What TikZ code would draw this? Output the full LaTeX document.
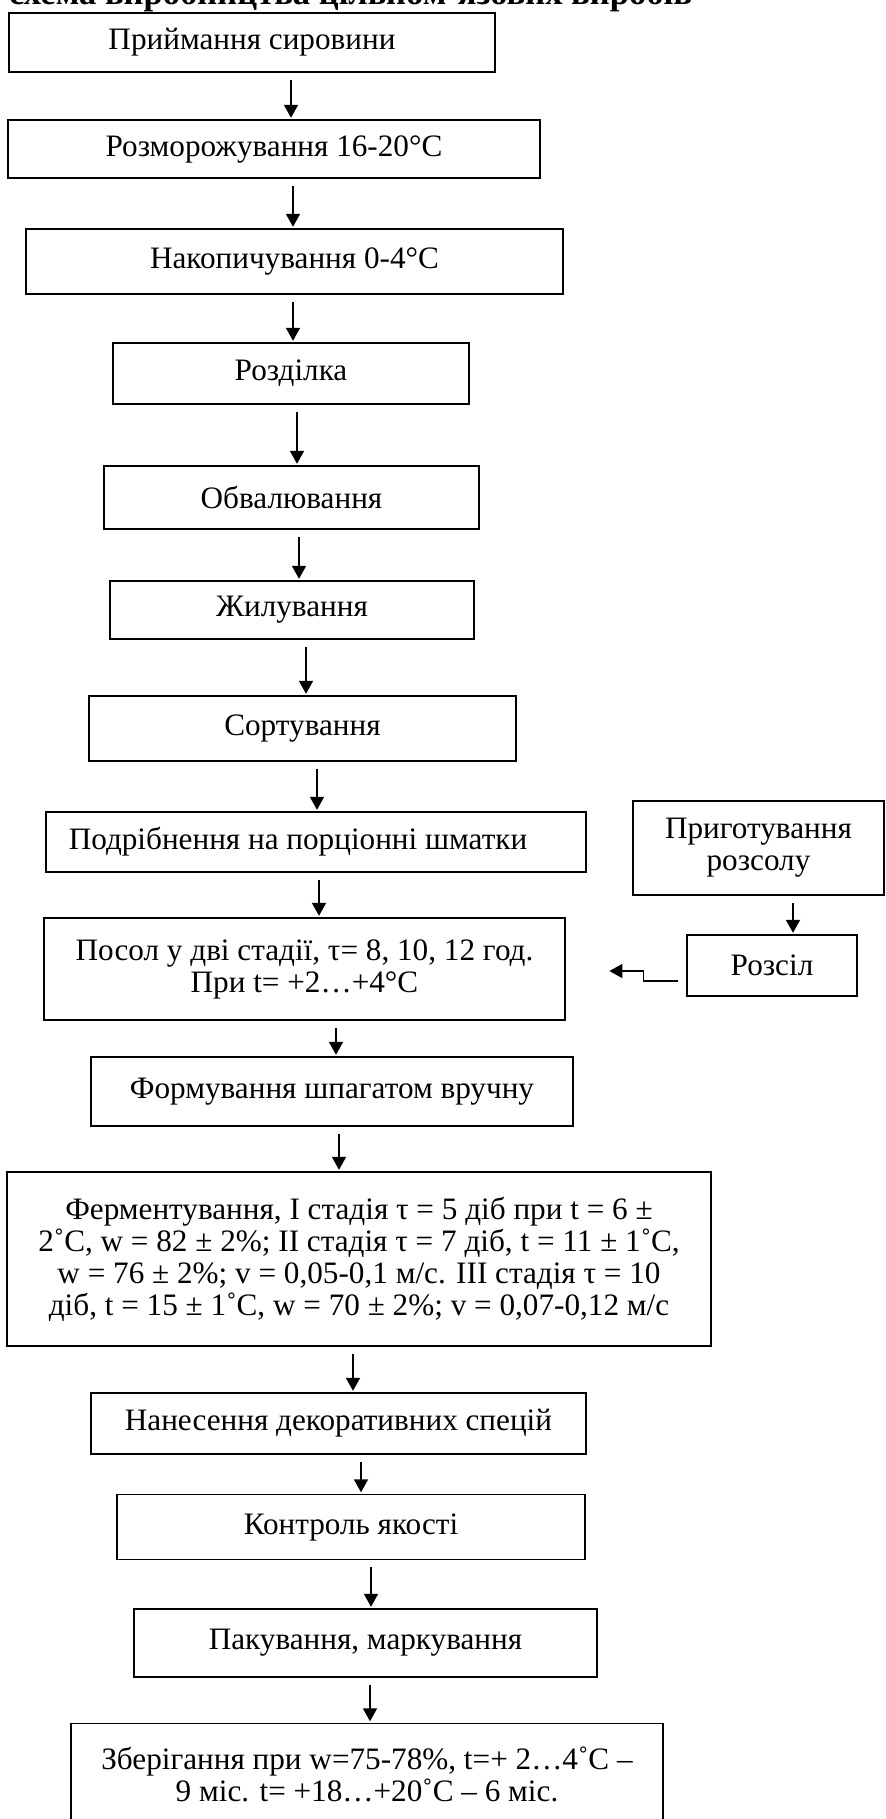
\documentclass[tikz,border=0pt]{standalone}
\usepackage{fontspec}
\setmainfont{Liberation Serif}
\usetikzlibrary{arrows.meta}
\begin{document}
\begin{tikzpicture}[x=0.5pt,y=-0.5pt,
	box/.style={draw,line width=0.6pt,inner sep=0pt,align=center,font=\fontsize{15.6}{16}\selectfont},
	arr/.style={-{Triangle[length=6.5pt,width=7pt]},line width=0.9pt,shorten <=3.5pt,shorten >=0.8pt}]
\useasboundingbox (0,0) rectangle (885,1819);
\node [anchor=base west,font=\bfseries\fontsize{17.3}{19}\selectfont] (title) at (2,5) {схема виробництва цільном'язових виробів};
% main line
\node [box,minimum width=243pt,minimum height=29.5pt] (n1) at (252,42.5) {Приймання сировини};
\node [box,minimum width=266pt,minimum height=29pt] (n2) at (274,149) {Розморожування 16-20°C};
\node [box,minimum width=268.5pt,minimum height=32.5pt] (n3) at (294.5,261.5) {Накопичування 0-4°C};
\node [box,minimum width=178pt,minimum height=30.5pt] (n4) at (291,373.5) {Розділка};
\node [box,minimum width=187.5pt,minimum height=31.5pt] (n5) at (291.5,497.5) {Обвалювання};
\node [box,minimum width=182pt,minimum height=29pt] (n6) at (292,610) {Жилування};
\node [box,minimum width=213.5pt,minimum height=32.5pt] (n7) at (302.5,728.5) {Сортування};
\node [box,minimum width=270pt,minimum height=30pt] (n8) at (316,842) {Подрібнення на порціонні шматки\hspace*{18pt}};
\node [box,minimum width=260.5pt,minimum height=51pt] (n9) at (304.5,969) {Посол у дві стадії, τ= 8, 10, 12 год.\\ При t= +2…+4°C};
\node [box,minimum width=241pt,minimum height=34.5pt] (n10) at (332,1091.5) {Формування шпагатом вручну};
\node [box,minimum width=352pt,minimum height=87pt] (n11) at (359,1259) {Ферментування, I стадія τ = 5 діб при t = 6 ±\\ 2˚C, w = 82 ± 2\%; II стадія τ = 7 діб, t = 11 ± 1˚C,\\ w = 76 ± 2\%; v = 0,05-0,1 м/с. III стадія τ = 10\\ діб, t = 15 ± 1˚C, w = 70 ± 2\%; v = 0,07-0,12 м/с};
\node [box,minimum width=247.5pt,minimum height=30.5pt] (n12) at (338.5,1423.5) {Нанесення декоративних спецій};
\node [box,minimum width=234pt,minimum height=32.5pt] (n13) at (351,1527) {Контроль якості};
\node [box,minimum width=231.5pt,minimum height=34pt] (n14) at (365.5,1643) {Пакування, маркування};
\node [box,minimum width=296pt,minimum height=51pt] (n15) at (367,1774.5) {Зберігання при w=75-78\%, t=+ 2…4˚C –\\ 9 міс. t= +18…+20˚C – 6 міс.};
% brine
\node [box,minimum width=125.5pt,minimum height=47pt] (r1) at (758.5,848) {Приготування\\ розсолу};
\node [box,minimum width=85pt,minimum height=30.5pt] (r2) at (772,965.5) {Розсіл};
% arrows
\path (n1.south) ++(39,0) coordinate (a1);
\path (n2.south) ++(19,0) coordinate (a2);
\path (n3.south) ++(-1.5,0) coordinate (a3);
\path (n4.south) ++(6,0) coordinate (a4);
\path (n5.south) ++(7.5,0) coordinate (a5);
\path (n6.south) ++(14,0) coordinate (a6);
\path (n7.south) ++(14.5,0) coordinate (a7);
\path (n8.south) ++(3,0) coordinate (a8);
\path (n9.south) ++(31.5,0) coordinate (a9);
\path (n10.south) ++(7,0) coordinate (a10);
\path (n11.south) ++(-6,0) coordinate (a11);
\path (n12.south) ++(22.5,0) coordinate (a12);
\path (n13.south) ++(20,0) coordinate (a13);
\path (n14.south) ++(4.5,0) coordinate (a14);
\path (r1.south) ++(34.5,0) coordinate (b1);
\draw [arr] (a1) -- (a1 |- n2.north);
\draw [arr] (a2) -- (a2 |- n3.north);
\draw [arr] (a3) -- (a3 |- n4.north);
\draw [arr] (a4) -- (a4 |- n5.north);
\draw [arr] (a5) -- (a5 |- n6.north);
\draw [arr] (a6) -- (a6 |- n7.north);
\draw [arr] (a7) -- (a7 |- n8.north);
\draw [arr] (a8) -- (a8 |- n9.north);
\draw [arr] (a9) -- (a9 |- n10.north);
\draw [arr] (a10) -- (a10 |- n11.north);
\draw [arr] (a11) -- (a11 |- n12.north);
\draw [arr] (a12) -- (a12 |- n13.north);
\draw [arr] (a13) -- (a13 |- n14.north);
\draw [arr] (a14) -- (a14 |- n15.north);
\draw [arr] (b1) -- (b1 |- r2.north);
% brine into salting
\path (r2.west) ++(-8,15.5) coordinate (h1);
\path (h1) ++(-69,-10) coordinate (h2);
\draw [arr,shorten <=0pt,shorten >=0pt] (h1) -- ++(-35,0) -- ++(0,-10) -- (h2);
\end{tikzpicture}
\end{document}
